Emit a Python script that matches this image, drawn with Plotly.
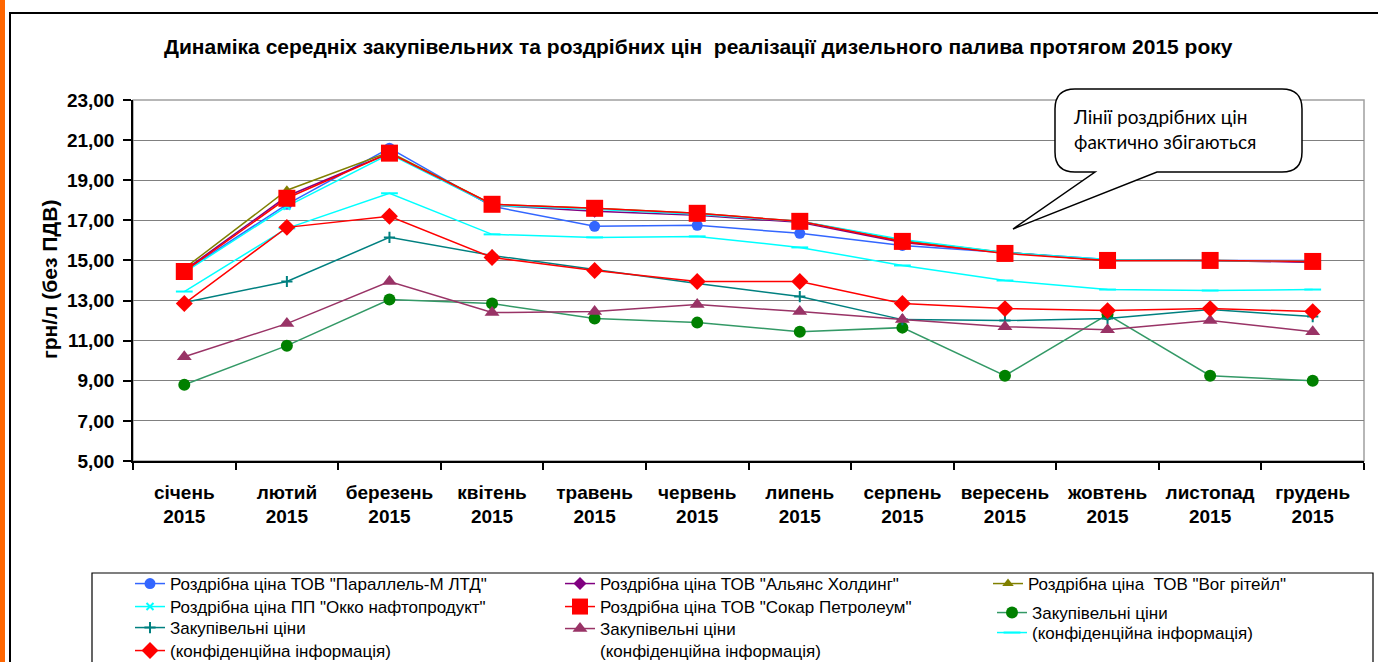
import plotly.graph_objects as go

months = ["січень", "лютий", "березень", "квітень", "травень", "червень",
          "липень", "серпень", "вересень", "жовтень", "листопад", "грудень"]
year = "2015"
categories = [f"{m}<br>{year}" for m in months]

parallel = [14.45, 17.8, 20.6, 17.7, 16.7, 16.75, 16.35, 15.75, 15.4, 15.05, 15.0, 15.0]
alliance = [14.5, 18.2, 20.35, 17.75, 17.45, 17.25, 16.9, 15.9, 15.4, 15.0, 15.0, 14.9]
vog = [14.6, 18.5, 20.4, 17.8, 17.6, 17.35, 16.95, 16.0, 15.4, 15.0, 15.0, 14.95]
okko = [14.4, 17.7, 20.3, 17.75, 17.55, 17.3, 16.95, 16.05, 15.4, 15.05, 15.0, 14.95]
socar = [14.45, 18.1, 20.35, 17.8, 17.6, 17.35, 16.95, 15.95, 15.35, 15.0, 15.0, 14.95]
purch_green = [8.8, 10.75, 13.05, 12.85, 12.1, 11.9, 11.45, 11.65, 9.25, 12.3, 9.25, 9.0]
purch_teal = [12.9, 13.95, 16.15, 15.25, 14.55, 13.85, 13.2, 12.05, 12.0, 12.1, 12.55, 12.2]
purch_tri = [10.2, 11.85, 13.95, 12.4, 12.45, 12.8, 12.45, 12.05, 11.7, 11.55, 12.0, 11.45]
conf_cyan = [13.45, 16.6, 18.35, 16.3, 16.15, 16.2, 15.65, 14.75, 14.0, 13.55, 13.5, 13.55]
conf_red = [12.85, 16.65, 17.2, 15.15, 14.5, 13.95, 13.95, 12.85, 12.6, 12.5, 12.6, 12.45]

title_text = "Динаміка середніх закупівельних та роздрібних цін  реалізації дизельного палива протягом 2015 року"
y_title = "грн/л (без ПДВ)"
callout_text = "Лінії роздрібних цін<br>фактично збігаються"

W, H = 1378, 662
L, R, T, B = 133, 1364, 100, 461
FONT = "Arial, Liberation Sans, sans-serif"


def px(x):
    return (x - L) / (R - L)


def py(y):
    return (B - y) / (B - T)


# legend slot: (left px, top px) for each series' legend entry
series = [
    dict(y=parallel, name='Роздрібна ціна ТОВ "Параллель-М ЛТД"', color="#3366FF", mcolor="#3366FF",
         symbol="circle", size=11, slot=(130, 566)),
    dict(y=alliance, name='Роздрібна ціна ТОВ "Альянс Холдинг"', color="#800080", mcolor="#800080",
         symbol="diamond", size=10, slot=(560, 566)),
    dict(y=vog, name='Роздрібна ціна  ТОВ "Вог рітейл"', color="#808000", mcolor="#808000",
         symbol="triangle-up", size=10, slot=(988, 566)),
    dict(y=okko, name='Роздрібна ціна ПП "Окко нафтопродукт"', color="#00FFFF", mcolor="#00FFFF",
         symbol="x-thin", size=7, slot=(130, 589)),
    dict(y=socar, name='Роздрібна ціна ТОВ "Сокар Петролеум"', color="#FF0000", mcolor="#FF0000",
         symbol="square", size=17, slot=(560, 589)),
    dict(y=purch_green, name="Закупівельні ціни", color="#339966", mcolor="#008000",
         symbol="circle", size=12, slot=(992, 595)),
    dict(y=purch_teal, name="Закупівельні ціни", color="#008080", mcolor="#008080",
         symbol="cross-thin", size=8, slot=(130, 610)),
    dict(y=purch_tri, name="Закупівельні ціни<br>(конфіденційна інформація)", color="#993366",
         mcolor="#993366", symbol="triangle-up", size=13, slot=(560, 611)),
    dict(y=conf_cyan, name="(конфіденційна інформація)", color="#00FFFF", mcolor="#00FFFF",
         symbol="line-ew", size=12, slot=(992, 615)),
    dict(y=conf_red, name="(конфіденційна інформація)", color="#FF0000", mcolor="#FF0000",
         symbol="diamond", size=13, slot=(130, 633)),
]

fig = go.Figure()
legend_layout = {}
for i, s in enumerate(series):
    lname = "legend" if i == 0 else f"legend{i + 1}"
    fig.add_trace(go.Scatter(
        x=categories, y=s["y"], name=s["name"], mode="lines+markers",
        line=dict(color=s["color"], width=1.5),
        marker=dict(symbol=s["symbol"], size=s["size"], color=s["mcolor"],
                    line=dict(color=s["mcolor"], width=2 if s["symbol"] in ("x-thin", "cross-thin", "line-ew") else 0)),
        legend=lname,
    ))
    legend_layout[lname] = dict(
        orientation="v", bgcolor="rgba(0,0,0,0)", borderwidth=0,
        font=dict(family=FONT, size=17, color="black"),
        xanchor="left", yanchor="top", valign="top", itemwidth=30,
        x=px(s["slot"][0]), y=py(s["slot"][1]))

shapes = [
    # orange strip on the left
    dict(type="rect", xref="paper", yref="paper", x0=px(0), x1=px(5), y0=py(700), y1=py(-10),
         fillcolor="#FF6600", line=dict(width=0), layer="below"),
    # outer chart border
    dict(type="rect", xref="paper", yref="paper", x0=px(10), x1=px(1395), y0=py(700), y1=py(13),
         line=dict(color="black", width=2), layer="below"),
    # plot area border
    dict(type="rect", xref="paper", yref="paper", x0=0, x1=1, y0=0, y1=1,
         line=dict(color="#A0A0A0", width=1.5), layer="below"),
    # legend box
    dict(type="rect", xref="paper", yref="paper", x0=px(92), x1=px(1373), y0=py(700), y1=py(573),
         line=dict(color="black", width=1.2), layer="below"),
]

# callout bubble with tail
pts = [("M", 1075, 89), ("L", 1282, 89), ("Q", 1302, 89, 1302, 109), ("L", 1302, 152),
       ("Q", 1302, 172, 1282, 172), ("L", 1157, 172), ("L", 1013, 229), ("L", 1095, 172),
       ("L", 1075, 172), ("Q", 1055, 172, 1055, 152), ("L", 1055, 109), ("Q", 1055, 89, 1075, 89)]
path = ""
for p in pts:
    cmd = p[0]
    coords = p[1:]
    parts = []
    for i in range(0, len(coords), 2):
        parts.append(f"{px(coords[i]):.5f},{py(coords[i+1]):.5f}")
    path += cmd + " " + " ".join(parts) + " "
path += "Z"
shapes.append(dict(type="path", xref="paper", yref="paper", path=path,
                   fillcolor="white", line=dict(color="black", width=1.5), layer="above"))

annotations = [
    dict(text=f"<b>{title_text}</b>", xref="paper", yref="paper", x=px(698), y=py(46),
         showarrow=False, font=dict(family=FONT, size=21, color="black"), xanchor="center", yanchor="middle"),
    dict(text=f"<b>{y_title}</b>", xref="paper", yref="paper", x=px(49), y=py(280), textangle=-90,
         showarrow=False, font=dict(family=FONT, size=21, color="black"), xanchor="center", yanchor="middle"),
    dict(text=callout_text, xref="paper", yref="paper", x=px(1071), y=py(129), align="left",
         showarrow=False, font=dict(family="Lato, Open Sans, sans-serif", size=19, color="black"),
         xanchor="left", yanchor="middle"),
]

fig.update_layout(
    width=W, height=H,
    margin=dict(l=L, r=W - R, t=T, b=H - B, autoexpand=False),
    paper_bgcolor="white", plot_bgcolor="white",
    separators=", ",
    font=dict(family=FONT, color="black"),
    xaxis=dict(type="category", showline=True, linecolor="black", linewidth=1.5,
               ticks="outside", tickson="boundaries", ticklen=7, tickcolor="black", tickwidth=1.5,
               showgrid=False, tickfont=dict(family=FONT, size=19, color="black", weight="bold"),
               tickangle=0, ticklabelstandoff=13, range=[-0.5, 11.5]),
    yaxis=dict(range=[5, 23], dtick=2, tick0=5, tickformat=".2f", showline=True, linecolor="black",
               linewidth=1.5, ticks="outside", ticklen=8, tickcolor="black", tickwidth=1.5,
               showgrid=True, gridcolor="#808080", gridwidth=1, zeroline=False,
               tickfont=dict(family=FONT, size=19, color="black", weight="bold"), ticklabelstandoff=5),
    shapes=shapes,
    annotations=annotations,
    showlegend=True,
    **legend_layout,
)

fig.write_html("out.html", config={"displayModeBar": False},
               post_script="document.body.style.margin='0px';")
